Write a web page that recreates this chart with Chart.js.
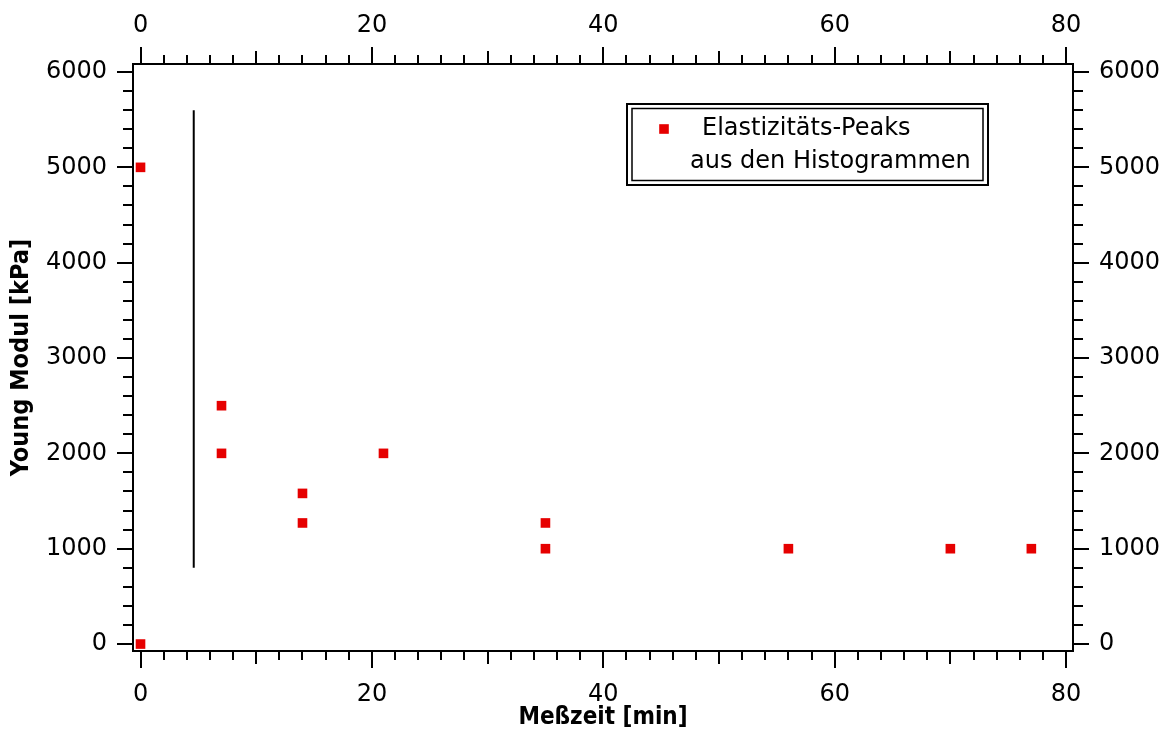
<!DOCTYPE html>
<html>
<head>
<meta charset="utf-8">
<script src="https://cdn.jsdelivr.net/npm/chart.js@4/dist/chart.umd.min.js"></script>
<style>
  html, body { margin: 0; padding: 0; background: #fff; }
</style>
</head>
<body>
<canvas id="scatterChart" width="1168" height="733"></canvas>
<script>

// Messzeit [min] und Young-Modul [kPa] der Elastizitaets-Peaks
var measTime  = [0, 0, 7, 7, 14, 14, 21, 35, 35, 56, 70, 77];
var youngPeak = [5000, 0, 2500, 2000, 1580, 1270, 2000, 1270, 1000, 1000, 1000, 1000];

// senkrechte Trennlinie
var sepTime  = [4.6, 4.6];
var sepModul = [800, 5600];

var xTickValues = [0, 20, 40, 60, 80];
var yTickValues = [0, 1000, 2000, 3000, 4000, 5000, 6000];

var legendLines = ["Elastizitäts-Peaks", "aus den Histogrammen"];

var X_MIN = -0.65, X_MAX = 80.6;
var Y_MIN = -73, Y_MAX = 6084;
var RED = "#e60000";
var TITLE_FONT = "'DejaVu Sans Condensed', 'DejaVu Sans', sans-serif";

Chart.defaults.font.family = "'DejaVu Sans', sans-serif";
Chart.defaults.color = "#000";

function toPoints(xs, ys) {
    return xs.map(function (x, i) { return { x: x, y: ys[i] }; });
}

function fixedTicks(values) {
    return function (scale) {
        scale.ticks = values.map(function (v) { return { value: v }; });
    };
}

function axis(position, values, min, max, pad, size) {
    var horizontal = position === "top" || position === "bottom";
    return {
        type: "linear",
        position: position,
        min: min,
        max: max,
        grid: { display: false, drawTicks: false },
        border: { display: true, color: "#000", width: 2 },
        ticks: {
            color: "#000",
            font: { size: 24 },
            padding: pad,
            maxRotation: 0,
            autoSkip: false,
            callback: function (v) { return String(v); }
        },
        afterBuildTicks: fixedTicks(values),
        afterFit: function (scale) {
            if (horizontal) { scale.height = size; } else { scale.width = size; }
        }
    };
}

// Tickmarken: lang bei Beschriftung, mittel bei 10 min, kurz sonst
var tickMarks = {
    id: "tickMarks",
    afterDraw: function (chart) {
        var ctx = chart.ctx, a = chart.chartArea;
        ctx.save();
        ctx.strokeStyle = "#000";
        ctx.lineWidth = 2;
        ctx.beginPath();
        for (var t = 0; t <= 80; t += 2) {
            var len = t % 20 === 0 ? 17 : (t % 10 === 0 ? 13 : 9);
            var px = Math.round(chart.scales.x.getPixelForValue(t));
            ctx.moveTo(px, a.bottom); ctx.lineTo(px, a.bottom + len);
            px = Math.round(chart.scales.x2.getPixelForValue(t));
            ctx.moveTo(px, a.top); ctx.lineTo(px, a.top - len);
        }
        for (var v = 0; v <= 6000; v += 200) {
            var l = v % 1000 === 0 ? 16 : 10;
            var py = Math.round(chart.scales.y.getPixelForValue(v));
            ctx.moveTo(a.left, py); ctx.lineTo(a.left - l, py);
            py = Math.round(chart.scales.y2.getPixelForValue(v));
            ctx.moveTo(a.right, py); ctx.lineTo(a.right + l, py);
        }
        ctx.stroke();
        ctx.restore();
    }
};

// Legende mit Doppelrahmen
var boxLegend = {
    id: "boxLegend",
    afterDraw: function (chart) {
        var ctx = chart.ctx, a = chart.chartArea;
        var left = a.right - 446, top = a.top + 40, w = 361, h = 81;
        ctx.save();
        ctx.strokeStyle = "#000";
        ctx.lineWidth = 2;
        ctx.strokeRect(left, top, w, h);
        ctx.lineWidth = 1.5;
        ctx.strokeRect(left + 5, top + 4.5, w - 10, h - 9);

        var ds = chart.data.datasets[0];
        ctx.fillStyle = ds.backgroundColor;
        Chart.helpers.drawPoint(ctx, {
            pointStyle: ds.pointStyle, radius: ds.pointRadius, borderWidth: 0
        }, left + 37, top + 25);

        ctx.fillStyle = "#000";
        ctx.font = "24px 'DejaVu Sans', sans-serif";
        ctx.textBaseline = "middle";
        ctx.textAlign = "left";
        ctx.fillText(legendLines[0], left + 75, top + 25);
        ctx.fillText(legendLines[1], left + 63, top + 58);
        ctx.restore();
    }
};

var ctx = document.getElementById("scatterChart");
var myScatter = new Chart(ctx, {
    type: "scatter",
    data: {
        datasets: [
            {
                label: legendLines.join(" "),
                data: toPoints(measTime, youngPeak),
                pointStyle: "rect",
                pointRadius: 6.8,
                pointHoverRadius: 6.8,
                backgroundColor: RED,
                borderWidth: 0,
                xAxisID: "x",
                yAxisID: "y"
            },
            {
                label: "Trennlinie",
                data: toPoints(sepTime, sepModul),
                showLine: true,
                borderColor: "#000",
                borderWidth: 2,
                pointRadius: 0,
                xAxisID: "x",
                yAxisID: "y"
            }
        ]
    },
    options: {
        responsive: false,
        animation: false,
        layout: { padding: 0 },
        plugins: {
            legend: { display: false },
            tooltip: { enabled: false }
        },
        scales: {
            x: Object.assign(axis("bottom", xTickValues, X_MIN, X_MAX, 29, 82), {
                title: {
                    display: true,
                    text: "Meßzeit [min]",
                    color: "#000",
                    font: { family: TITLE_FONT, size: 24, weight: "bold" },
                    padding: { top: 0, bottom: 1 }
                }
            }),
            x2: axis("top", xTickValues, X_MIN, X_MAX, 24, 64),
            y: Object.assign(axis("left", yTickValues, Y_MIN, Y_MAX, 26, 133), {
                title: {
                    display: true,
                    text: "Young Modul [kPa]",
                    color: "#000",
                    font: { family: TITLE_FONT, size: 25, weight: "bold" },
                    padding: { top: 6, bottom: 0 }
                }
            }),
            y2: axis("right", yTickValues, Y_MIN, Y_MAX, 26, 95)
        }
    },
    plugins: [tickMarks, boxLegend]
});
</script>
</body>
</html>
